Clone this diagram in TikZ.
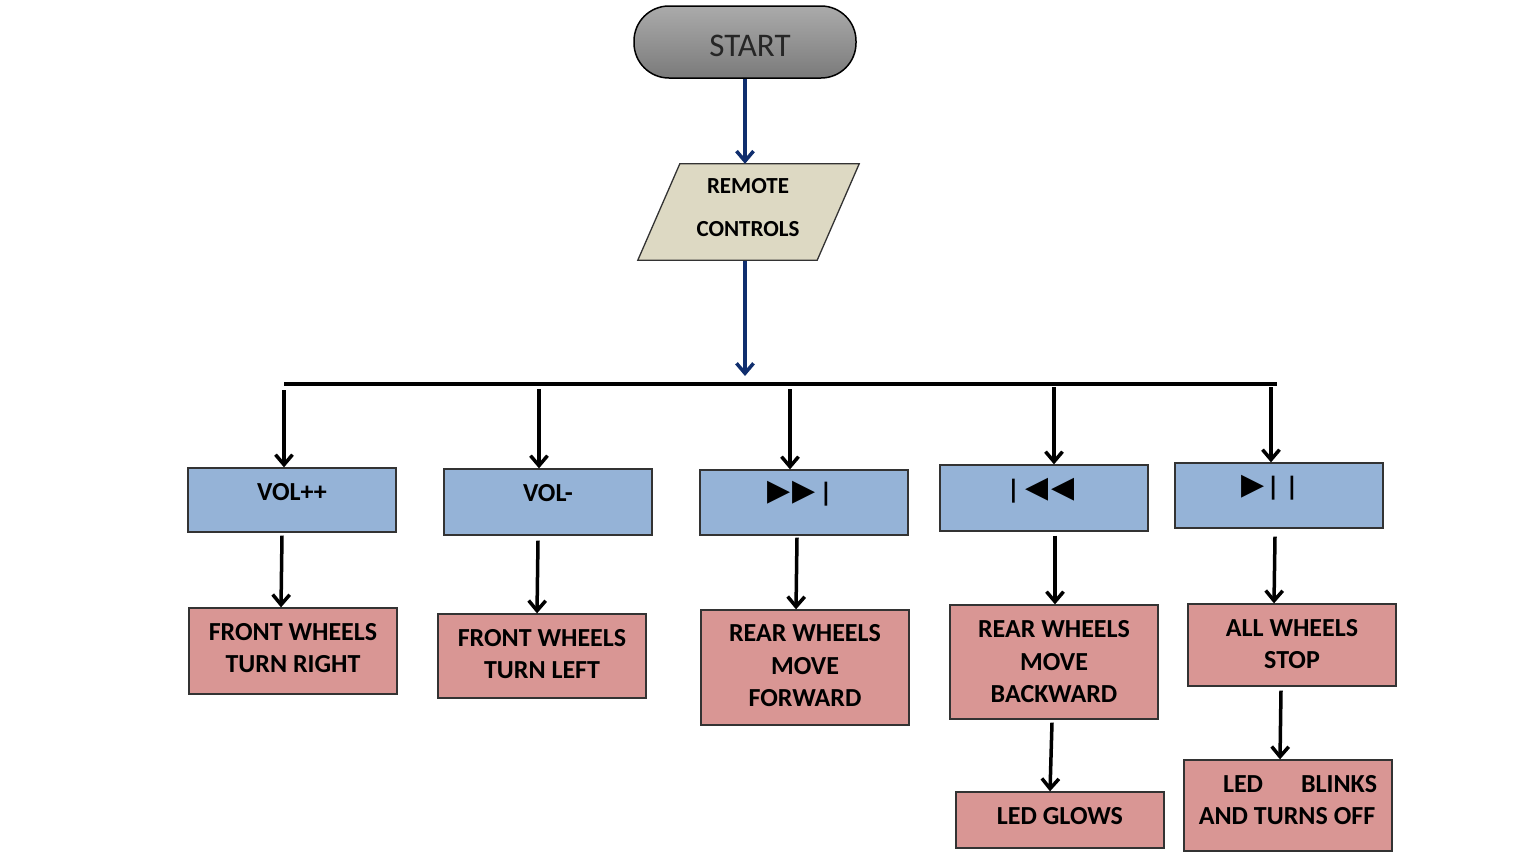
\documentclass[tikz,border=0pt]{standalone}
\usepackage{fontspec}
\setmainfont{Carlito}
\newfontfamily\symfont{DejaVu Sans}
\usetikzlibrary{arrows.meta}
\definecolor{navy}{HTML}{102E6E}
\definecolor{parch}{HTML}{DDD9C3}
\definecolor{keyblue}{HTML}{95B3D7}
\definecolor{actred}{HTML}{D99694}
\newcommand{\tri}[1]{{\mdseries\fontsize{30}{30}\selectfont #1}}
\tikzset{
     box/.style     = {draw=black!80, line width=1.3pt, minimum width=208pt, inner sep=0pt},
     keybox/.style  = {box, fill=keyblue},
     actbox/.style  = {box, fill=actred},
     txt/.style     = {font=\bfseries\fontsize{26}{32.5}\selectfont, align=center, inner sep=0pt},
     symtxt/.style  = {font=\symfont\bfseries\fontsize{24}{24}\selectfont, inner sep=0pt},
     flow/.style    = {navy, line width=3.5pt, -{Straight Barb[length=10pt,width=17pt]}},
     link/.style    = {black, line width=3.5pt, -{Straight Barb[length=10pt,width=17pt]}},
    }

\begin{document}
\begin{tikzpicture}[x=1pt,y=-1pt]
        \useasboundingbox (0,0) rectangle (1529,860);
        % start and input
        \node [draw=black, line width=1.5pt, rounded corners=35pt, minimum width=222pt, minimum height=72pt,
               top color=black!33, bottom color=black!52] (start) at (745,42) {};
        \node [font=\fontsize{33}{36}\selectfont, text=black!85, inner sep=0pt] (starttxt) at (750,46) {START};
        \node [minimum width=221pt, minimum height=96pt, inner sep=0pt] (remote) at (748.5,212) {};
        \draw [draw=black!80, line width=1.3pt, fill=parch]
              ([xshift=42pt]remote.north west) -- (remote.north east)
              -- ([xshift=-42pt]remote.south east) -- (remote.south west) -- cycle;
        \node [txt, font=\bfseries\fontsize{23}{28}\selectfont] (remotetxt) at (748,207.5) {REMOTE\\[15pt]CONTROLS};
        \coordinate (hub) at (745,376);
        \draw [flow] (start) -- (start.south |- remote.north);
        \draw [flow] ([yshift=-1pt]remote.south -| hub) -- (hub);

        % bus
        \coordinate (busL) at (284,384);
        \coordinate (busR) at (1277,384);
        \draw [line width=4.5pt] (busL) -- (busR);
        \coordinate (b1) at (284,390);
        \coordinate (b2) at (539,389);
        \coordinate (b3) at (790,389);
        \coordinate (b4) at (1054,387);
        \coordinate (b5) at (1271,387);

        % remote keys
        \node [keybox, minimum height=64pt] (vol)  at (292,500)   {};
        \node [keybox, minimum height=66pt] (volm) at (548,502)   {};
        \node [keybox, minimum height=65pt] (fwd)  at (804,502.5) {};
        \node [keybox, minimum height=66pt] (rev)  at (1044,498)  {};
        \node [keybox, minimum height=65pt] (play) at (1279,495.5){};
        \node [txt] (voltxt)  at (292,492) {VOL++};
        \node [txt] (volmtxt) at (548,493) {VOL-};
        \node [symtxt] (fwdtxt)  at (799,494) {\tri{▶}\hspace{2pt}\tri{▶}\hspace{6pt}|};
        \node [symtxt] (revtxt)  at (1042,491) {|\hspace{8pt}\tri{◀}\hspace{3pt}\tri{◀}};
        \node [symtxt] (playtxt) at (1269,488) {\tri{▶}\hspace{4pt}|\hspace{10pt}|};

        % actions
        \node [actbox, minimum height=86pt]  (fr)    at (293,651)    {};
        \node [actbox, minimum height=84pt]  (fl)    at (542,656)    {};
        \node [actbox, minimum height=115pt] (rf)    at (805,667.5)  {};
        \node [actbox, minimum height=114pt] (rb)    at (1054,662)   {};
        \node [actbox, minimum height=82pt]  (stop)  at (1292,645)   {};
        \node [actbox, minimum height=56pt]  (glow)  at (1060,820)   {};
        \node [actbox, minimum height=91pt]  (blink) at (1288,805.5) {};
        \node [txt] (frtxt)    at (293,648)  {FRONT WHEELS\\TURN RIGHT};
        \node [txt] (fltxt)    at (542,654)  {FRONT WHEELS\\TURN LEFT};
        \node [txt] (rftxt)    at (805,666)  {REAR WHEELS\\MOVE\\FORWARD};
        \node [txt] (rbtxt)    at (1054,662) {REAR WHEELS\\MOVE\\BACKWARD};
        \node [txt] (stoptxt)  at (1292,644) {ALL WHEELS\\STOP};
        \node [txt] (glowtxt)  at (1060,816) {LED GLOWS};
        \node [txt] (blinktxt) at (1287,800) {\hspace*{26pt}LED\hspace{38pt}BLINKS\\AND TURNS OFF};

        \path [link]
        (b1) edge (b1 |- vol.north)
        (b2) edge (b2 |- volm.north)
        (b3) edge (b3 |- fwd.north)
        (b4) edge (b4 |- rev.north)
        (b5) edge (b5 |- play.north)
        ([xshift=-10pt,yshift=-3pt]vol.south)   edge ([xshift=-12pt]fr.north)
        ([xshift=-10pt,yshift=-5pt]volm.south)  edge ([xshift=-5pt]fl.north)
        ([xshift=-7pt,yshift=-2pt]fwd.south)    edge ([xshift=-9pt]rf.north)
        ([xshift=11pt,yshift=-4pt]rev.south)    edge ([xshift=1pt]rb.north)
        ([xshift=-4pt,yshift=-8pt]play.south)   edge ([xshift=-18pt]stop.north)
        ([xshift=-2pt,yshift=-3pt]rb.south)     edge ([xshift=-10pt]glow.north)
        ([xshift=-11pt,yshift=-4pt]stop.south)  edge ([xshift=-8pt]blink.north);
\end{tikzpicture}
\end{document}
